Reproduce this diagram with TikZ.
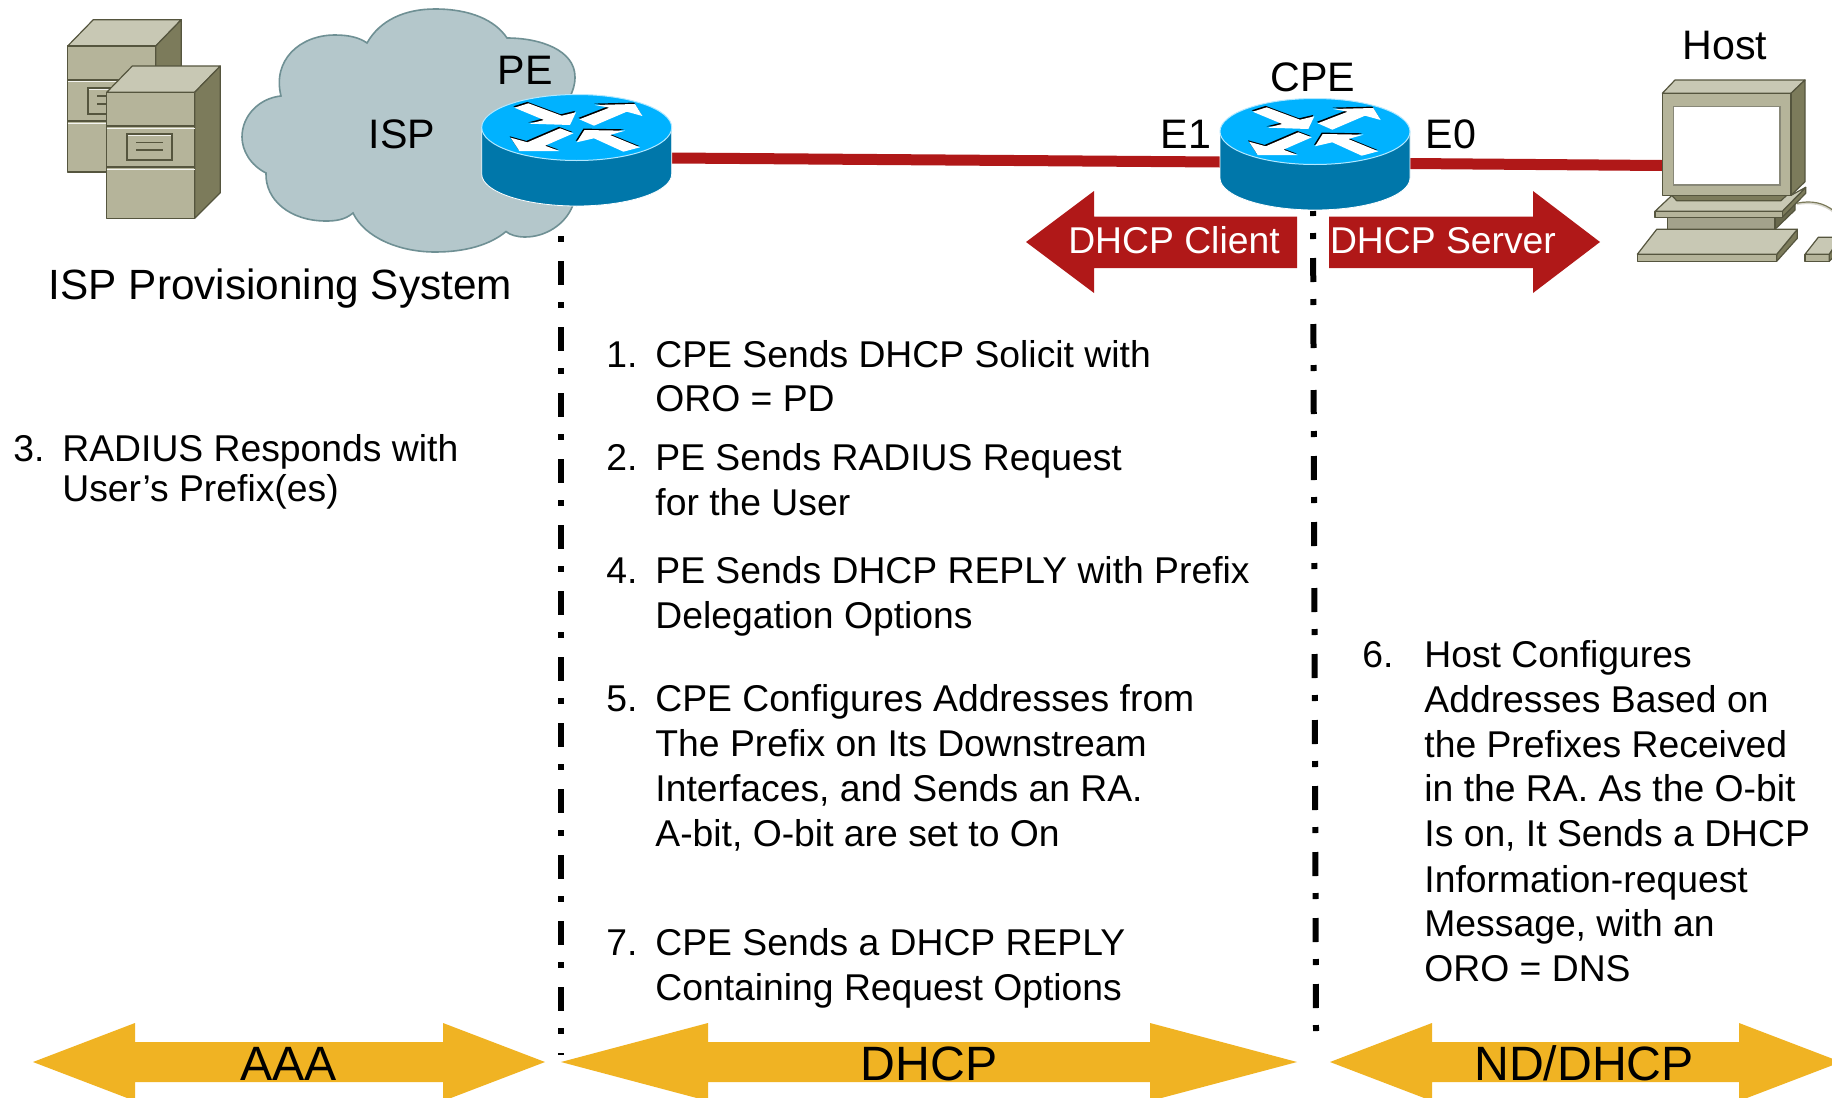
\documentclass[tikz,border=0pt]{standalone}
\usepackage{fontspec}
\setmainfont{Liberation Sans}
\definecolor{linkred}{HTML}{B01818}
\definecolor{gold}{HTML}{F0B323}
\definecolor{cloudf}{HTML}{B4C7CB}
\definecolor{cloudl}{HTML}{6F9094}
\definecolor{rtop}{HTML}{00B2FF}
\definecolor{rside}{HTML}{0077AA}
\definecolor{kfront}{HTML}{B5B49A}
\definecolor{ktop}{HTML}{C8C8B4}
\definecolor{kside}{HTML}{7C7B5B}
\definecolor{kline}{HTML}{55553E}
\tikzset{
  x=0.5pt,y=-0.5pt,
  link/.style={draw=linkred,line width=5.5pt},
  dashline/.style={draw=black,line width=3pt,dash pattern=on 12pt off 8.5pt on 3pt off 9.5pt},
  ghost/.style={inner sep=0pt,outer sep=0pt,draw=none,fill=none},
  kit/.style={draw=kline,line width=0.6pt,line join=round},
  redarrow/.style={fill=linkred},
  goldarrow/.style={fill=gold},
  lbl/.style={inner sep=0pt,anchor=base,font=\fontsize{20.6}{24}\selectfont},
  lblwide/.style={inner sep=0pt,anchor=base,font=\fontsize{21.15}{24}\selectfont},
  body/.style={inner sep=0pt,anchor=base west,font=\fontsize{18.65}{22.5}\selectfont},
  redlbl/.style={inner sep=0pt,anchor=base,text=white,font=\fontsize{18.65}{22.5}\selectfont},
  goldlbl/.style={inner sep=0pt,anchor=base,font=\fontsize{24.1}{26}\selectfont},
  rarrow/.style={fill=white,draw=none},
  rshadow/.style={fill=black,draw=none,shift={(-1,-1.4)}},
}
\newcommand\routerarrow[1]{%
  \fill[rshadow] #1 -- cycle;
  \fill[rarrow] #1 -- cycle;}
\newcommand\routerdraw[2]{%
  \begin{scope}[shift={(#1,#2)}]
    \path[fill=rside,draw=white,line width=0.4pt] (-95,0) -- (-95,46.5)
      arc[start angle=180,end angle=360,x radius=47.5pt,y radius=16pt] -- (95,0) -- cycle;
    \path[fill=rtop,draw=white!70!rtop,line width=0.5pt] (0,0) ellipse[x radius=47.5pt,y radius=16.5pt];
    \routerarrow{(-48.3,-24.2) -- (-15,-11.8) -- (-0.7,-15.2) -- (-6.7,-2.5) -- (-47.3,-3.8) -- (-32.7,-7.5) -- (-62.3,-19.8)}
    \routerarrow{(2.7,-8.2) -- (32.7,-19.8) -- (18.3,-22.5) -- (58.3,-23.5) -- (65.7,-11.5) -- (50,-15.8) -- (17.3,-1.8)}
    \routerarrow{(-16.7,0.8) -- (-3.3,5.8) -- (-31.7,18.2) -- (-17.3,23.5) -- (-57.3,23.5) -- (-66,10.2) -- (-49.3,14.8)}
    \routerarrow{(0,14.8) -- (7.7,2.5) -- (48.3,3.2) -- (33.3,7.5) -- (63.3,19.8) -- (46.7,24.2) -- (17.3,10.8)}
  \end{scope}}
\newcommand\serverdraw[2]{%
  \begin{scope}[shift={(#1,#2)}]
    \path[kit,fill=ktop] (0,0) -- (25.6,-26.3) -- (113.6,-26.3) -- (88,0) -- cycle;
    \path[kit,fill=kside] (88,0) -- (113.6,-26.3) -- (113.6,100.4) -- (88,126) -- cycle;
    \path[kit,fill=kfront] (0,0) rectangle (88,126);
    \draw[kline,line width=1pt] (0,33.7) -- (88,33.7) (0,75) -- (88,75);
    \draw[white!85!kfront,line width=0.5pt] (0,35.7) -- (88,35.7) (0,77) -- (88,77);
    \path[draw=white!80!kfront,line width=0.5pt] (21,43) rectangle (66,68.5);
    \path[draw=kline,line width=1pt] (20,42) rectangle (65,67.7);
    \draw[kline,line width=0.8pt] (29.3,50) -- (56,50) (29.3,57.7) -- (56,57.7);
  \end{scope}}
\begin{document}
\begin{tikzpicture}
\clip (0,0) rectangle (1832,1098);
\fill[white] (0,0) rectangle (1832,1098);
% cloud
\path[fill=cloudf,draw=cloudl,line width=0.8pt] (367,43)
  .. controls (380,20) and (405,9) .. (435,9)
  .. controls (470,9) and (495,20) .. (507,38)
  .. controls (540,38) and (575,50) .. (575,77)
  .. controls (575,85) and (573,90) .. (570,97)
  -- (600,150) -- (572.7,205.7)
  .. controls (565,225) and (545,237) .. (525,237)
  .. controls (517,237) and (510,235) .. (506,231.5)
  .. controls (490,245) and (465,252) .. (435,252)
  .. controls (400,252) and (365,238) .. (353,213)
  .. controls (345,220) and (335,221) .. (326,221)
  .. controls (290,221) and (265,200) .. (266,173)
  .. controls (250,165) and (242,150) .. (242,137)
  .. controls (242,115) and (260,98) .. (281,96)
  .. controls (272,60) and (300,35) .. (335,35)
  .. controls (350,35) and (360,38) .. (367,43) -- cycle;
% servers
\serverdraw{67.7}{46}
\serverdraw{106.7}{92.3}
% anchor boxes
\node[ghost,minimum width=95pt,minimum height=55.5pt] (pe) at (576.7,150.5) {};
\node[ghost,minimum width=95pt,minimum height=55.5pt] (cpe) at (1315,154.5) {};
\node[ghost,minimum width=64.5pt,minimum height=51pt] (host) at (1726.5,144) {};
% links
\draw[link] ([yshift=-3.75pt]pe.east) -- ([yshift=-3.75pt]cpe.west);
\draw[link] ([yshift=-4.5pt]cpe.east) -- ([yshift=-10.75pt]host.west);
% dashed separators
\coordinate (d1a) at (561,236);
\coordinate (d1b) at (561,1055);
\coordinate (d2a) at (1313,211);
\coordinate (d2b) at (1316,1031);
\draw[dashline,dash phase=20.5pt] (d1a) -- (d1b);
\draw[dashline,dash phase=9.5pt] (d2a) -- (d2b);
% routers
\routerdraw{576.7}{127.5}
\routerdraw{1315}{131.5}
% host PC
\draw[white!70!kside,line width=1.2pt] (1796.7,204) .. controls (1812,201) and (1824,204) .. (1834,212);
\draw[kside,line width=0.6pt] (1796.7,203.3) .. controls (1812,200) and (1824,203) .. (1834,211);
\path[kit,fill=kside!85!black] (1775,217.3) -- (1795,201.7) -- (1795,210) -- (1775,229.3) -- cycle;
\path[kit,fill=kside] (1782.3,211.3) -- (1805.7,187.3) -- (1805.7,193.3) -- (1782.3,217.3) -- cycle;
\path[kit,fill=ktop] (1672,195.3) -- (1791,195.3) -- (1805.7,187.3) -- (1782.3,211.3) -- (1655,211.3) -- cycle;
\path[kit,fill=kfront] (1655,211.3) rectangle (1782.3,217.3);
\path[kit,fill=kfront!90!black] (1667.3,217.3) rectangle (1775,229.3);
\path[kit,fill=kside] (1671.7,195.3) -- (1786.7,195.3) -- (1781,200.7) -- (1676.7,200.7) -- cycle;
\path[kit,fill=ktop] (1662.3,93.3) -- (1675,80) -- (1805,80) -- (1791,93.3) -- cycle;
\path[kit,fill=kside] (1791,93.3) -- (1805,80) -- (1805,181.7) -- (1791,195.3) -- cycle;
\path[kit,fill=kfront] (1662.3,93.3) rectangle (1791,195.3);
\path[draw=kline!70!white,fill=white,line width=0.6pt] (1673.3,106.7) rectangle (1780,185);
\path[kit,fill=kside] (1797.3,229.3) -- (1797.3,238.3) -- (1776.7,261.3) -- (1776.7,254.3) -- cycle;
\path[kit,fill=ktop] (1656.7,229.3) -- (1797.3,229.3) -- (1776.7,254.3) -- (1637.3,254.3) -- cycle;
\path[kit,fill=kfront] (1637.3,254.3) rectangle (1776.7,261.3);
\path[kit,fill=ktop] (1818.3,237.3) -- (1840,237.3) -- (1829.3,254.3) -- (1805,254.3) -- cycle;
\path[kit,fill=kfront] (1805,254.3) rectangle (1829.3,261.3);
\path[kit,fill=kside] (1829.3,254.3) -- (1840,240) -- (1840,250) -- (1829.3,261.3) -- cycle;
% red arrows
\path[redarrow] (1026,242) -- (1094,191) -- (1094,216.5) -- (1297,216.5) -- (1297,268) -- (1094,268) -- (1094,293) -- cycle;
\path[redarrow] (1600,242) -- (1533,191) -- (1533,216.5) -- (1329,216.5) -- (1329,268) -- (1533,268) -- (1533,293) -- cycle;
% gold arrows
\path[goldarrow] (33,1062) -- (135,1023) -- (135,1042) -- (443,1042) -- (443,1023) -- (545,1062) -- (443,1101) -- (443,1082) -- (135,1082) -- (135,1101) -- cycle;
\path[goldarrow] (561,1062) -- (708,1023) -- (708,1042) -- (1150,1042) -- (1150,1023) -- (1297,1062) -- (1150,1101) -- (1150,1082) -- (708,1082) -- (708,1101) -- cycle;
\path[goldarrow] (1330,1062) -- (1432,1023) -- (1432,1042) -- (1739,1042) -- (1739,1023) -- (1841,1062) -- (1739,1101) -- (1739,1082) -- (1432,1082) -- (1432,1101) -- cycle;
% labels
\node[lbl] (tpe) at (525,84) {PE};
\node[lbl] (tisp) at (402,148) {ISP};
\node[lblwide] (tsys) at (280.5,299) {ISP Provisioning System};
\node[lbl] (tcpe) at (1313,91) {CPE};
\node[lbl] (te1) at (1186,148) {E1};
\node[lbl] (te0) at (1451,148) {E0};
\node[lbl] (thost) at (1725,59) {Host};
\node[redlbl] (tcl) at (1174,253) {DHCP Client};
\node[redlbl] (tsv) at (1443,253) {DHCP Server};
\node[goldlbl] (taaa) at (288.5,1080) {AAA};
\node[goldlbl] (tdh) at (929,1080) {DHCP};
\node[goldlbl] (tnd) at (1584,1080) {ND/DHCP};
% left item
\node[body] (n3) at (13,461) {3.};
\node[body] (l3a) at (62,461) {RADIUS Responds with};
\node[body] (l3b) at (62,501) {User’s Prefix(es)};
% middle items
\node[body] (n1) at (606,367) {1.};
\node[body] (l1a) at (655,367) {CPE Sends DHCP Solicit with};
\node[body] (l1b) at (655,411) {ORO = PD};
\node[body] (n2) at (606,470) {2.};
\node[body] (l2a) at (655,470) {PE Sends RADIUS Request};
\node[body] (l2b) at (655,515) {for the User};
\node[body] (n4) at (606,583) {4.};
\node[body] (l4a) at (655,583) {PE Sends DHCP REPLY with Prefix};
\node[body] (l4b) at (655,628) {Delegation Options};
\node[body] (n5) at (606,711) {5.};
\node[body] (l5a) at (655,711) {CPE Configures Addresses from};
\node[body] (l5b) at (655,756) {The Prefix on Its Downstream};
\node[body] (l5c) at (655,801) {Interfaces, and Sends an RA.};
\node[body] (l5d) at (655,846) {A-bit, O-bit are set to On};
\node[body] (n7) at (606,955) {7.};
\node[body] (l7a) at (655,955) {CPE Sends a DHCP REPLY};
\node[body] (l7b) at (655,1000) {Containing Request Options};
% right item
\node[body] (n6) at (1362,667) {6.};
\node[body] (r1) at (1424,667) {Host Configures};
\node[body] (r2) at (1424,712) {Addresses Based on};
\node[body] (r3) at (1424,757) {the Prefixes Received};
\node[body] (r4) at (1424,801) {in the RA. As the O-bit};
\node[body] (r5) at (1424,846) {Is on, It Sends a DHCP};
\node[body] (r6) at (1424,892) {Information-request};
\node[body] (r7) at (1424,936) {Message, with an};
\node[body] (r8) at (1424,981) {ORO = DNS};
\end{tikzpicture}
\end{document}
